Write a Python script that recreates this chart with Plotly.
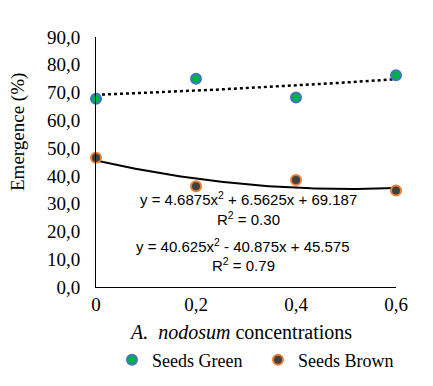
import numpy as np
import plotly.graph_objects as go

x_vals = [0, 0.2, 0.4, 0.6]
x_labels = ["0", "0,2", "0,4", "0,6"]
green = [67.75, 75.0, 68.25, 76.25]
brown = [46.5, 36.25, 38.5, 34.75]
y_ticks = [0, 10, 20, 30, 40, 50, 60, 70, 80, 90]
y_labels = ["0,0", "10,0", "20,0", "30,0", "40,0", "50,0", "60,0", "70,0", "80,0", "90,0"]
eq_green = ["y = 4.6875x<sup>2</sup> + 6.5625x + 69.187", "R<sup>2</sup> = 0.30"]
eq_brown = ["y = 40.625x<sup>2</sup> - 40.875x + 45.575", "R<sup>2</sup> = 0.79"]

xs = np.linspace(0, 0.6, 100)
pg = np.polyfit(x_vals, green, 2)
pb = np.polyfit(x_vals, brown, 2)

fig = go.Figure()
fig.add_trace(go.Scatter(x=xs, y=np.polyval(pg, xs), mode="lines",
                         line=dict(color="black", width=2.5, dash="dot"),
                         showlegend=False, hoverinfo="skip"))
fig.add_trace(go.Scatter(x=xs, y=np.polyval(pb, xs), mode="lines",
                         line=dict(color="black", width=2),
                         showlegend=False, hoverinfo="skip"))
fig.add_trace(go.Scatter(x=x_vals, y=green, mode="markers", name="Seeds Green",
                         marker=dict(size=10, color="#00B050",
                                     line=dict(color="#4472C4", width=2)),
                         cliponaxis=False))
fig.add_trace(go.Scatter(x=x_vals, y=brown, mode="markers", name="Seeds Brown",
                         marker=dict(size=10, color="#404040",
                                     line=dict(color="#ED7D31", width=2)),
                         cliponaxis=False))

serif = "Liberation Serif"
sans = "Liberation Sans"
# plot area drawn at image x 96..396, y 37..287
L, T, PW, PH = 88, 29, 300, 250
W, H = 425, 378


def px(xi):
    return (xi - 8 - L) / PW


def py(yi):
    return (T + PH - (yi - 8)) / PH


fig.update_layout(
    width=W, height=H,
    margin=dict(l=L, r=W - L - PW, t=T, b=H - T - PH, autoexpand=False),
    paper_bgcolor="white", plot_bgcolor="white",
    font=dict(family=serif, size=19, color="black"),
    xaxis=dict(range=[0, 0.6], tickvals=x_vals, ticktext=x_labels,
               showgrid=False, zeroline=False, showline=True, automargin=False,
               linecolor="black", linewidth=1, ticks="",
               tickfont=dict(family=serif, size=19)),
    yaxis=dict(range=[0, 90], tickvals=y_ticks, ticktext=y_labels,
               showgrid=False, zeroline=False, showline=True, automargin=False,
               linecolor="black", linewidth=1, ticks="", ticklabelstandoff=11,
               tickfont=dict(family=serif, size=19)),
    legend=dict(orientation="h", x=px(112), xanchor="left", y=py(360), yanchor="middle",
                font=dict(family=serif, size=18), itemwidth=30,
                entrywidth=101, entrywidthmode="pixels"),
    showlegend=True,
)
fig.add_annotation(x=px(18), y=py(132), xref="paper", yref="paper", text="Emergence (%)",
                   showarrow=False, textangle=-90, xanchor="center", yanchor="middle",
                   font=dict(family=serif, size=19))
fig.add_annotation(x=px(240), y=py(332), xref="paper", yref="paper",
                   text="<i>A.  nodosum</i> concentrations", showarrow=False,
                   xanchor="center", yanchor="middle",
                   font=dict(family=serif, size=20))
for txt, xi, yi in [(eq_green[0], 248, 198), (eq_green[1], 248, 218),
                    (eq_brown[0], 243, 245), (eq_brown[1], 243, 264)]:
    fig.add_annotation(x=px(xi), y=py(yi), xref="paper", yref="paper",
                       text=txt, showarrow=False, xanchor="center", yanchor="middle",
                       font=dict(family=sans, size=15))

fig.write_html("out.html")
